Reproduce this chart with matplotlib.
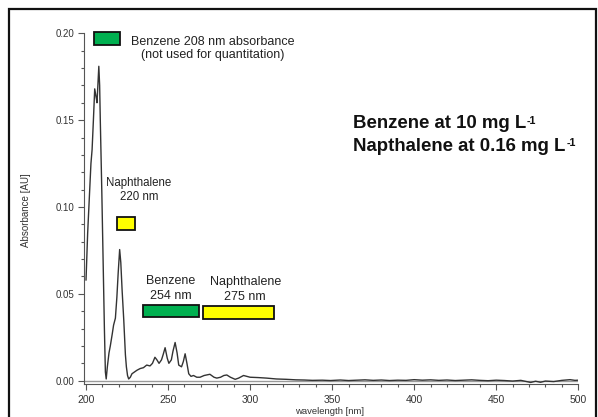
import numpy as np
import matplotlib
matplotlib.use('Agg')
import matplotlib.pyplot as plt
from matplotlib.patches import Rectangle

plt.rcParams['font.family'] = ['Liberation Sans', 'DejaVu Sans']

# Spectrum (one line of wavelengths, matching line of absorbances)
wavelength = [200, 201, 202, 203, 203.7, 204.5, 205.3, 206.2, 206.7, 207.8, 208.3, 208.7,
              209.6, 210.5, 211.2, 211.8, 212.3, 213, 214, 214.8, 216, 216.8, 217.9, 218.8,
              219.6, 220.5, 221.2, 222, 223, 224, 224.6, 225.3, 226, 227, 228, 229.5, 231,
              233, 235, 237, 239, 240.5, 242, 243.2, 244.5, 246, 247, 248.2, 249.5, 250.5,
              252, 253, 254.3, 255.5, 256.5, 258.2, 259.3, 260.4, 261.5, 262.6, 264, 265.5,
              267.5, 269.5, 272, 275.5, 278, 279.7, 282, 284, 285.8, 288, 290.9, 293, 296,
              298, 300, 305, 310, 316, 322, 328, 333, 338, 344, 349,
              355, 360, 365, 370, 375, 380, 385, 390, 395, 400, 405, 410, 415, 420, 425,
              430, 435, 440, 445, 450, 455, 460, 465, 468, 471, 474, 477, 480, 485, 490,
              495, 498, 500]
absorbance = [0.058, 0.085, 0.105, 0.125, 0.133, 0.150, 0.168, 0.163, 0.160, 0.181, 0.170, 0.150,
              0.110, 0.065, 0.030, 0.005, 0.001, 0.008, 0.016, 0.020, 0.027, 0.032, 0.036, 0.048,
              0.062, 0.0755, 0.068, 0.052, 0.035, 0.015, 0.008, 0.003, 0.001, 0.002, 0.004, 0.005, 0.006,
              0.007, 0.0075, 0.009, 0.0085, 0.010, 0.0135, 0.012, 0.010, 0.012, 0.015, 0.019, 0.013, 0.010,
              0.012, 0.017, 0.022, 0.016, 0.009, 0.008, 0.011, 0.0155, 0.010, 0.004, 0.0025, 0.003,
              0.002, 0.002, 0.003, 0.0037, 0.002, 0.0015, 0.002, 0.003, 0.0033, 0.002, 0.0008, 0.0015, 0.003,
              0.0025, 0.002, 0.0018, 0.0015, 0.001, 0.0008, 0.0005, 0.0004, 0.0002, 0.0003, 0.0001,
              0.0004, 0.0001, 0.0003, 0.0005, 0.0002, 0.0004, 0.0001, 0.0003, 0.0002, 0.0006, 0.0003, 0.0005, 0.0002, 0.0004, 0.0001,
              0.0003, 0.0005, 0.0002, 0.0, 0.0003, 0.0001, -0.0002, 0.0002, -0.0004, -0.0010, -0.0003, -0.0009, -0.0002, -0.0005, 0.0002,
              0.0006, 0.0002, 0.0003]

fig = plt.figure(figsize=(5.98, 4.17), dpi=100)
ax = fig.add_axes([0.1411, 0.0787, 0.8259, 0.8415])

# Outer frame
fig.patches.append(Rectangle((0.015, -0.1), 0.9817, 1.078, transform=fig.transFigure,
                             fill=False, edgecolor='#111111', linewidth=1.6))

ax.axhline(0, color='#999999', linewidth=1.0, zorder=1)
ax.plot(wavelength, absorbance, color='#333333', linewidth=1.0, zorder=2)

ax.set_xlim(199, 500)
ax.set_ylim(-0.002, 0.2)
ax.spines['top'].set_visible(False)
ax.spines['right'].set_visible(False)
for s in ['left', 'bottom']:
    ax.spines[s].set_color('#555555')
    ax.spines[s].set_linewidth(0.8)

ax.set_xticks(np.arange(200, 501, 50))
ax.set_xticks(np.arange(200, 501, 10), minor=True)
ax.set_yticks([0.0, 0.05, 0.10, 0.15, 0.20])
ax.set_yticklabels(['0.00', '0.05', '0.10', '0.15', '0.20'])
ax.set_yticks(np.arange(0, 0.2001, 0.01), minor=True)
ax.tick_params(which='major', length=4.5, width=0.8, color='#555555',
               labelcolor='#333333', pad=3)
ax.tick_params(axis='x', which='major', labelsize=7.5)
ax.tick_params(axis='y', which='major', labelsize=7)
ax.tick_params(which='minor', length=2.5, width=0.8, color='#555555')

ax.set_xlabel('wavelength [nm]', fontsize=6.8, color='#333333', va='top')
ax.xaxis.set_label_coords(0.497, -0.064)
ax.set_ylabel('Absorbance [AU]', fontsize=7, color='#333333')
ax.yaxis.set_label_coords(-0.108, 0.496)

# Coloured wavelength markers
boxes = [(204.9, 0.1931, 15.8, 0.0077, '#00B050'),
         (218.7, 0.0867, 11.2, 0.0078, '#FFFF00'),
         (234.9, 0.0364, 34.2, 0.0074, '#00B050'),
         (271.5, 0.0358, 43.1, 0.0074, '#FFFF00')]
for x0, y0, w, h, c in boxes:
    ax.add_patch(Rectangle((x0, y0), w, h, facecolor=c, edgecolor='#111111',
                           linewidth=1.3, clip_on=False, zorder=3))

tc = '#222222'
ax.text(277.4, 0.1931, 'Benzene 208 nm absorbance', fontsize=9, ha='center', va='baseline', color=tc)
ax.text(277.4, 0.1857, '(not used for quantitation)', fontsize=9, ha='center', va='baseline', color=tc)
ax.text(232.3, 0.1121, 'Naphthalene', fontsize=8.3, ha='center', va='baseline', color=tc)
ax.text(232.3, 0.1039, '220 nm', fontsize=8.3, ha='center', va='baseline', color=tc)
ax.text(251.8, 0.0557, 'Benzene', fontsize=9, ha='center', va='baseline', color=tc)
ax.text(251.8, 0.0470, '254 nm', fontsize=9, ha='center', va='baseline', color=tc)
ax.text(297.0, 0.0553, 'Naphthalene', fontsize=9, ha='center', va='baseline', color=tc)
ax.text(297.0, 0.0466, '275 nm', fontsize=9, ha='center', va='baseline', color=tc)

# Concentrations, with small superscript -1
for ybase, txt in [(0.1453, 'Benzene at 10 mg L'), (0.1324, 'Napthalene at 0.16 mg L')]:
    t = ax.text(362.8, ybase, txt, fontsize=13.4, fontweight='bold',
                ha='left', va='baseline', color='#111111')
    ax.annotate('-1', xy=(1, 1), xycoords=t, xytext=(0.5, -0.5), textcoords='offset points',
                fontsize=7.8, fontweight='bold', ha='left', va='top', color='#111111')

fig.savefig('out.png', dpi=100)
